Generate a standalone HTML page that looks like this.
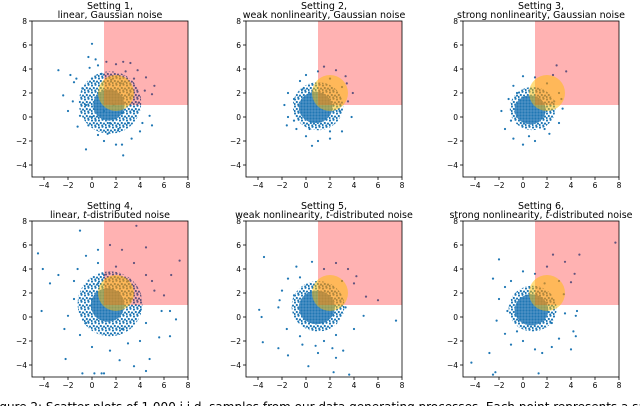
<!DOCTYPE html>
<html><head><meta charset="utf-8"><style>
body{margin:0;background:#fff;width:640px;height:406px;overflow:hidden}
svg{display:block}
text{font-family:"DejaVu Sans","Liberation Sans",sans-serif}
</style></head><body>
<svg id="fig" width="640" height="406">
<defs>
<pattern id="sparse" width="7" height="7" patternUnits="userSpaceOnUse">
<circle cx="1" cy="1.5" r="1.1" fill="#1f77b4"/><circle cx="4.5" cy="0.8" r="1.1" fill="#1f77b4"/>
<circle cx="2.8" cy="4" r="1.1" fill="#1f77b4"/><circle cx="6" cy="4.6" r="1.1" fill="#1f77b4"/>
<circle cx="0.6" cy="6" r="1.1" fill="#1f77b4"/><circle cx="4.2" cy="6.4" r="1" fill="#1f77b4"/>
</pattern>
<pattern id="dense" width="3" height="3" patternUnits="userSpaceOnUse"><rect width="3" height="3" fill="#4f92c6"/><circle cx="1.5" cy="1.5" r="1.1" fill="#1f77b4"/></pattern>
</defs>
</svg>
<script>
const titles1 = ["Setting 1,","Setting 2,","Setting 3,","Setting 4,","Setting 5,","Setting 6,"];
const titles2a = ["linear, Gaussian noise","weak nonlinearity, Gaussian noise","strong nonlinearity, Gaussian noise","linear, ","weak nonlinearity, ","strong nonlinearity, "];
const titles2b = ["","","","-distributed noise","-distributed noise","-distributed noise"];
const ticks = [-4,-2,0,2,4,6,8];
// outer cloud [cx, cy, rx, ry] and inner dense core [cx, cy, rx, ry]
const outer = [[1.5,1.2,2.6,2.6],[1.0,0.9,2.1,2.0],[0.8,0.7,1.9,1.8],[1.5,1.1,2.7,2.7],[1.0,0.9,2.2,2.1],[0.8,0.7,2.0,1.9]];
const inner = [[1.4,1.0,1.3,1.3],[0.8,0.8,1.4,1.3],[0.6,0.6,1.3,1.2],[1.3,1.0,1.4,1.4],[0.9,0.8,1.5,1.4],[0.7,0.6,1.4,1.3]];
const pts1 = [[-2.8,3.9],[-2.4,1.8],[-1.8,3.5],[-1.5,2.9],[-2,0.5],[-1.2,-0.8],[-0.5,-2.7],[0,6.1],[-0.3,5],[0.3,4.8],[0.5,4.3],[1.2,4.6],[2,4.4],[2.6,4.6],[3.2,4.5],[3.8,3.9],[4.5,3.3],[5.2,2.6],[5,1.9],[4.4,2.2],[3.5,3.2],[2.8,3.8],[4.8,0.1],[5,-0.7],[4.2,-0.5],[3.3,-1.8],[2.5,-2.3],[2,-2.3],[2.6,-3.2],[1.3,-1.4],[0.5,-1.5],[-0.3,-0.7],[-1,0.1],[-1.6,1.3],[-0.8,2.4],[0,3.2],[0.5,2],[1,0.5],[0,0],[1.5,-0.5],[2.5,0.3],[3,-0.5],[3.5,0.5],[-0.5,1],[0.3,-0.3],[1.8,1],[2.2,-1],[3.9,1.2],[-1.3,3.2],[0.8,3.6],[1.6,3.1],[2.4,2.8],[3.1,1.9],[-0.2,4.1],[4,-1.2],[1,-2]];
const pts2 = [[-1,1.5],[-1.5,0],[-1.6,-0.7],[-1.5,2],[-0.5,3],[0,3.5],[1,3.8],[2,3.2],[3,2.5],[3.5,1.3],[3.8,0],[3,-1.2],[2,-1.8],[1,-2],[0,-1.6],[-0.8,-1],[2.5,3.9],[3.3,3.4],[1.5,4.2],[0.5,-2.4],[-1,-0.3],[2.8,0.5],[3.4,2.8],[-0.3,2.3],[2,-1.2],[0.3,-1],[-1.8,1],[3.9,2]];
const pts3 = [[-1.2,1.5],[-1.8,0.5],[-1.5,-1],[-0.8,2.6],[0,3.4],[1,3.3],[2,2.8],[2.5,3.5],[3,2],[3.3,0.7],[3,-0.5],[2.2,-1.4],[1,-2],[0,-2.3],[-0.8,-1.8],[3.6,3.8],[2.8,4.3],[-1,-0.3],[1.8,-1],[2.6,1.3],[-0.5,2],[0.5,-1.6],[3.2,1.5]];
const pts4 = [[-4.2,0.5],[-4.5,5.3],[-3.5,2.8],[-2.3,-1],[-2.2,-3.5],[-2,0.1],[-1.5,3],[-1,7.2],[-0.5,5.1],[0.8,-4.7],[0.2,-4.7],[-0.8,-4.7],[1,-4.7],[2.3,-3.6],[3.5,-4.1],[4.5,-4.5],[4.8,-3.5],[5.6,-1.7],[6.5,-1.6],[7,-0.2],[6.5,0.5],[5.8,0.5],[6,1.8],[5.2,2.2],[6.6,3.5],[7.3,4.7],[4.5,5.8],[3.7,7.6],[2.5,5.6],[1.5,6],[0.5,4.5],[2,4.2],[3.5,4.5],[4.5,3.5],[5,3],[4,-2],[3,-2.2],[1.5,-2.8],[0,-2.5],[-1,-1.5],[-1.5,1.5],[-0.5,-0.5],[0.5,2.8],[3,3],[4,0.5],[4.5,-0.5],[-2.8,3.5],[-1.2,4],[0,1.5],[2.5,-1],[3.2,1.5],[1,3.5],[-4.1,4],[0.5,5.6]];
const pts5 = [[-3.9,0.6],[-3.7,0],[-3.6,-2.1],[-3.5,5],[-2.3,-2.6],[-1.5,-3.2],[-0.3,-2.3],[0.2,-4.1],[1,-3],[2.3,-4.6],[2.5,-3.4],[3.1,-2.8],[3.6,-4.8],[4,-1],[4.8,0.1],[7.5,-0.3],[5,1.7],[4,2.8],[3.5,4],[2.5,4.5],[1.5,4],[0.5,4.6],[-0.5,3.3],[-1.5,3.2],[-2,2.2],[-2.3,0.8],[-1.6,-1],[-0.5,-1.6],[1.5,-2],[2.5,-1.5],[3.3,0.8],[3,3],[-1,1.8],[0.8,-2.4],[2.2,-2.6],[-2.2,1.4],[4.2,3.4],[-0.8,4.2],[6,1.4]];
const pts6 = [[-4.3,-3.8],[-2.8,-3],[-2.3,-4.6],[-2.5,-4.8],[-2,4.8],[-2.5,3.2],[-2,1.5],[-2.2,-0.3],[-1.5,-1.4],[-1,-2.3],[0,-2],[1,-2.7],[1.3,-4.7],[1.6,-3],[2.4,-2.5],[3,-1.8],[4,-2.7],[4.2,-1.2],[4.4,-1.6],[4.5,0.5],[4.4,0.1],[3.5,0.3],[3.4,1.9],[3,3],[4,2.9],[4.3,3.6],[3.5,4.6],[2.5,5.2],[2,4.2],[1,3.6],[0,3.8],[-1,3],[-1.5,2.5],[7.7,6.2],[4.7,5.2],[2.4,-0.5],[-0.5,-1.2],[1.8,2.8],[-1.3,0.5]];
const allPts = [pts1,pts2,pts3,pts4,pts5,pts6];

const NS="http://www.w3.org/2000/svg";
const svg=document.getElementById('fig');
function mk(tag,attrs,parent){const e=document.createElementNS(NS,tag);for(const k in attrs)e.setAttribute(k,attrs[k]);(parent||svg).appendChild(e);return e;}
const lefts=[32,246,463], tops=[21,221], W=156, H=156, lo=-5, hi=8;
const fmt=t=>t<0?'\u2212'+(-t):String(t);
for(let p=0;p<6;p++){
  const L=lefts[p%3], T=tops[Math.floor(p/3)];
  const sx=v=>L+(v-lo)/(hi-lo)*W, sy=v=>T+H-(v-lo)/(hi-lo)*H, su=v=>v/(hi-lo)*W;
  const g=mk('g',{});
  
  
  const o=outer[p];
  const oe=mk('ellipse',{cx:sx(o[0]),cy:sy(o[1]),rx:su(o[2]),ry:su(o[3]),fill:'url(#sparse)'},g);
  
  
  const c=inner[p];
  const core=mk('ellipse',{cx:sx(c[0]),cy:sy(c[1]),rx:su(c[2]),ry:su(c[3]),fill:'url(#dense)'},g);
  
  
  for(const q of allPts[p]){
    const d=mk('circle',{cx:sx(q[0]),cy:sy(q[1]),r:1.1,fill:'#1f77b4'},g);
    
    
  }
  const r=mk('rect',{x:sx(1),y:sy(8),width:sx(8)-sx(1),height:sy(1)-sy(8),fill:'rgba(255,0,0,0.3)'},g);
  
  
  const ci=mk('circle',{cx:sx(2),cy:sy(2),r:su(1.5),fill:'rgba(255,190,0,0.5)'},g);
  
  
  const fr=mk('rect',{x:L,y:T,width:W,height:H,fill:'none',stroke:'#000','stroke-width':0.8},g);
  
  
  for(const t of ticks){
    mk('line',{x1:sx(t),x2:sx(t),y1:T+H,y2:T+H+3,stroke:'#000','stroke-width':0.8},g);
    const tx=mk('text',{x:sx(t),y:T+H+11,'font-size':7.5,'text-anchor':'middle'},g);
    tx.textContent=fmt(t);
    
    
    mk('line',{x1:L-3,x2:L,y1:sy(t),y2:sy(t),stroke:'#000','stroke-width':0.8},g);
    const ty=mk('text',{x:L-5,y:sy(t)+3,'font-size':7.5,'text-anchor':'end'},g);
    ty.textContent=fmt(t);
    
    
  }
  const t1=mk('text',{x:L+W/2,y:T-12,'font-size':9.5,'text-anchor':'middle'},g);
  t1.textContent=titles1[p];
  
  
  const t2=mk('text',{x:L+W/2,y:T-3,'font-size':9.5,'text-anchor':'middle'},g);
  
  
  const s1=mk('tspan',{},t2); s1.textContent=titles2a[p];
  if(titles2b[p]){
    const s2=mk('tspan',{'font-style':'italic'},t2); s2.textContent='t';
    const s3=mk('tspan',{},t2); s3.textContent=titles2b[p];
  }
}
const cap=mk('text',{x:-4,y:411,'font-size':12,'font-family':'Liberation Serif, serif'});
cap.textContent='igure 2: Scatter plots of 1,000 i.i.d. samples from our data generating processes. Each point represents a sample, with t';


</script>
</body></html>
